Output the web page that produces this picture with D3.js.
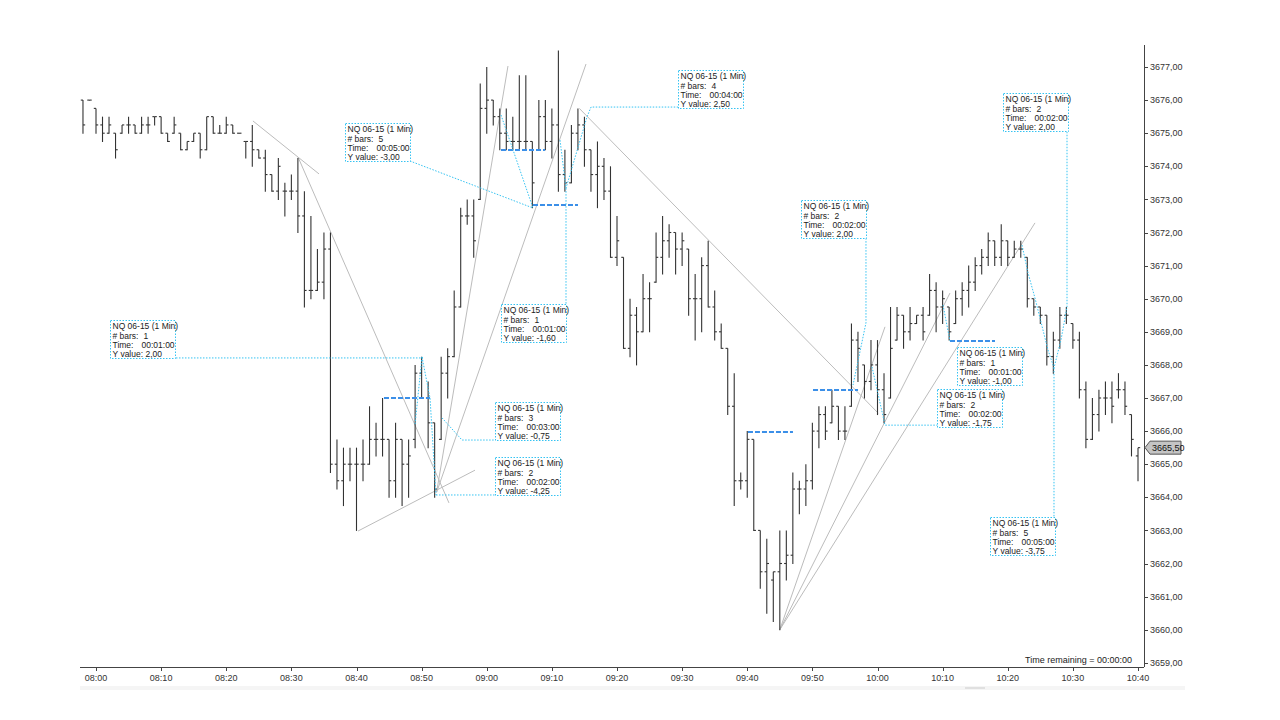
<!DOCTYPE html>
<html>
<head>
<meta charset="utf-8">
<script src="https://cdn.jsdelivr.net/npm/d3@7"></script>
<style>
  body { margin: 0; background: #fff; }
  svg { display: block; font-family: Arial, "Liberation Sans", sans-serif; }
</style>
</head>
<body>
<div id="chart"></div>
<script>
// minutes after 08:00, first bar is 07:58
const barMinutes = d3.range(-2, 161);

const opens = [
  3676.00, 3676.00,
  3675.75, 3675.25, 3675.00, 3675.00, 3675.00, 3675.25, 3675.25, 3675.00, 3675.25, 3675.50,
  3675.50, 3675.00, 3675.00, 3675.00, 3674.50, 3674.75, 3675.00, 3674.50, 3675.50, 3675.00,
  3675.00, 3675.25, 3675.00, 3674.75, 3674.75, 3674.50, 3674.25, 3673.75, 3673.25, 3673.25,
  3673.25, 3673.25, 3672.50, 3670.25, 3670.25, 3670.50, 3671.50, 3665.00, 3664.50, 3665.00,
  3665.00, 3665.00, 3665.00, 3665.75, 3665.75, 3665.75, 3664.50, 3665.75, 3665.00, 3665.75,
  3667.75, 3667.00, 3666.25, 3665.75, 3667.75, 3668.25, 3669.75, 3672.50, 3672.50, 3673.00,
  3675.75, 3676.00, 3675.50, 3675.00, 3674.75, 3674.75, 3674.75, 3674.75, 3674.50, 3675.50,
  3674.75, 3675.25, 3673.75, 3673.50, 3675.00, 3675.25, 3674.50, 3673.75, 3674.00, 3673.25,
  3671.25, 3671.25, 3668.50, 3669.50, 3669.00, 3670.00, 3670.50, 3671.25, 3671.75, 3672.00,
  3671.50, 3671.50, 3670.00, 3670.00, 3671.00, 3669.75, 3669.00, 3668.50, 3666.75, 3664.50,
  3664.50, 3665.75, 3663.00, 3661.75, 3661.50, 3661.75, 3662.00, 3662.25, 3664.25, 3664.25,
  3664.50, 3666.00, 3666.50, 3666.25, 3666.75, 3666.00, 3666.75, 3668.75, 3668.00, 3667.50,
  3668.00, 3667.25, 3667.00, 3668.75, 3669.50, 3669.00, 3669.25, 3669.50, 3669.50, 3670.25,
  3669.75, 3669.75, 3669.25, 3670.00, 3670.25, 3670.50, 3671.00, 3671.25, 3671.75, 3671.25,
  3671.75, 3671.25, 3671.50, 3671.25, 3670.00, 3669.75, 3669.50, 3668.25, 3668.75, 3669.50,
  3669.25, 3668.75, 3667.25, 3665.75, 3666.50, 3667.00, 3667.00, 3667.25, 3667.25, 3666.50,
  3665.25
];
const highs = [
  3676.00, 3676.00,
  3675.75, 3675.50, 3675.50, 3675.00, 3675.25, 3675.50, 3675.25, 3675.50, 3675.50, 3675.50,
  3675.50, 3675.00, 3675.50, 3675.00, 3674.75, 3675.00, 3675.00, 3675.50, 3675.50, 3675.25,
  3675.50, 3675.25, 3675.00, 3674.75, 3675.25, 3674.50, 3674.50, 3673.75, 3674.25, 3673.50,
  3673.75, 3674.25, 3673.25, 3672.50, 3671.50, 3672.00, 3672.00, 3665.75, 3665.50, 3665.50,
  3665.50, 3665.75, 3666.75, 3666.25, 3667.00, 3665.75, 3666.25, 3665.75, 3665.75, 3668.00,
  3668.25, 3667.50, 3666.25, 3668.25, 3668.50, 3670.25, 3672.75, 3673.00, 3673.00, 3676.50,
  3677.00, 3676.00, 3675.75, 3675.75, 3675.50, 3676.75, 3676.75, 3674.75, 3676.00, 3676.00,
  3675.75, 3677.50, 3674.50, 3675.25, 3675.75, 3675.50, 3674.50, 3674.75, 3674.25, 3674.00,
  3672.50, 3671.25, 3670.00, 3669.75, 3670.75, 3670.50, 3672.00, 3672.50, 3672.25, 3672.00,
  3672.00, 3671.50, 3670.75, 3671.25, 3671.75, 3670.25, 3669.25, 3668.50, 3667.75, 3664.75,
  3666.00, 3665.75, 3663.00, 3662.75, 3661.75, 3663.00, 3663.00, 3664.75, 3664.50, 3665.00,
  3666.25, 3666.75, 3666.75, 3667.25, 3666.75, 3666.75, 3669.25, 3669.00, 3668.00, 3668.75,
  3668.75, 3667.75, 3669.75, 3669.75, 3669.50, 3669.75, 3669.50, 3669.75, 3670.75, 3670.50,
  3670.25, 3669.75, 3670.25, 3670.50, 3671.00, 3671.25, 3671.50, 3672.00, 3671.75, 3672.25,
  3671.75, 3671.75, 3671.75, 3671.25, 3670.00, 3669.75, 3669.50, 3669.00, 3669.75, 3669.75,
  3669.25, 3669.00, 3667.50, 3667.00, 3667.25, 3667.50, 3667.50, 3667.75, 3667.50, 3666.50,
  3665.50
];
const lows = [
  3675.00, 3676.00,
  3675.00, 3674.75, 3675.00, 3674.25, 3675.00, 3675.00, 3675.00, 3675.00, 3675.00, 3675.25,
  3675.00, 3674.75, 3675.00, 3674.50, 3674.50, 3674.75, 3674.25, 3674.50, 3675.00, 3675.00,
  3675.00, 3675.00, 3675.00, 3674.25, 3674.00, 3674.25, 3673.25, 3673.25, 3673.00, 3672.50,
  3673.00, 3672.00, 3669.75, 3670.00, 3670.25, 3670.00, 3664.75, 3664.25, 3663.75, 3664.50,
  3663.00, 3664.50, 3665.00, 3665.25, 3665.25, 3664.00, 3664.00, 3663.75, 3664.00, 3665.50,
  3667.00, 3665.50, 3664.00, 3665.75, 3667.00, 3668.25, 3669.75, 3672.25, 3671.25, 3673.00,
  3675.00, 3675.25, 3674.50, 3674.50, 3674.50, 3674.50, 3674.50, 3672.75, 3674.50, 3674.50,
  3674.25, 3673.25, 3673.25, 3673.50, 3674.50, 3674.00, 3673.25, 3672.75, 3673.00, 3671.25,
  3671.00, 3668.50, 3668.25, 3668.00, 3669.00, 3669.00, 3670.50, 3670.75, 3671.25, 3670.75,
  3671.00, 3669.50, 3668.75, 3669.00, 3669.75, 3668.75, 3668.50, 3666.50, 3663.75, 3664.25,
  3664.00, 3663.00, 3661.25, 3660.50, 3660.25, 3660.00, 3661.50, 3662.00, 3663.50, 3663.75,
  3664.25, 3665.50, 3665.75, 3666.25, 3665.75, 3665.75, 3666.75, 3667.50, 3667.00, 3667.25,
  3666.50, 3666.25, 3667.00, 3668.75, 3668.50, 3668.75, 3669.25, 3668.75, 3669.50, 3669.00,
  3669.25, 3668.75, 3669.25, 3669.50, 3669.75, 3670.25, 3670.75, 3671.00, 3671.00, 3671.00,
  3671.00, 3671.25, 3671.25, 3669.75, 3669.50, 3669.25, 3668.00, 3667.75, 3668.50, 3669.25,
  3668.50, 3667.00, 3665.50, 3665.75, 3666.00, 3666.50, 3666.25, 3667.00, 3666.50, 3665.25,
  3664.50
];
const closes = [
  3675.25, 3676.00,
  3675.25, 3675.00, 3675.25, 3674.50, 3675.25, 3675.25, 3675.00, 3675.25, 3675.25, 3675.50,
  3675.00, 3674.75, 3675.25, 3674.50, 3674.75, 3675.00, 3674.50, 3675.50, 3675.00, 3675.00,
  3675.25, 3675.00, 3675.00, 3674.75, 3674.50, 3674.25, 3673.75, 3673.25, 3674.00, 3673.25,
  3673.25, 3672.50, 3670.25, 3670.25, 3670.50, 3671.50, 3665.00, 3664.50, 3665.00, 3665.00,
  3665.00, 3665.00, 3665.75, 3665.75, 3665.75, 3664.50, 3665.75, 3665.00, 3665.25, 3667.75,
  3667.00, 3666.25, 3664.25, 3667.75, 3668.25, 3669.75, 3672.50, 3672.50, 3671.75, 3675.75,
  3676.00, 3675.50, 3675.00, 3674.75, 3674.75, 3674.75, 3674.75, 3673.50, 3675.50, 3674.75,
  3675.25, 3673.75, 3673.50, 3675.00, 3675.25, 3674.50, 3673.75, 3674.00, 3673.25, 3671.25,
  3671.75, 3668.50, 3669.50, 3669.00, 3670.00, 3670.00, 3671.25, 3671.75, 3672.00, 3671.50,
  3671.75, 3670.00, 3670.00, 3671.00, 3669.75, 3669.00, 3668.50, 3666.75, 3664.50, 3664.50,
  3665.75, 3663.00, 3661.75, 3662.00, 3661.75, 3662.00, 3662.25, 3664.25, 3664.25, 3664.50,
  3666.00, 3666.50, 3666.00, 3666.75, 3666.00, 3666.00, 3668.75, 3668.50, 3667.50, 3668.00,
  3667.25, 3666.50, 3668.50, 3669.50, 3669.00, 3669.25, 3669.50, 3669.00, 3670.25, 3669.75,
  3670.00, 3669.00, 3670.00, 3670.25, 3670.50, 3671.00, 3671.25, 3671.75, 3671.25, 3671.75,
  3671.25, 3671.50, 3671.50, 3670.00, 3669.75, 3669.50, 3668.25, 3668.75, 3669.50, 3669.50,
  3668.75, 3667.25, 3665.75, 3666.50, 3667.00, 3667.00, 3666.75, 3667.25, 3666.75, 3665.75,
  3665.50
];

const xTickMinutes = d3.range(0, 161, 10);
const xTickLabels = ["08:00", "08:10", "08:20", "08:30", "08:40", "08:50", "09:00", "09:10", "09:20",
  "09:30", "09:40", "09:50", "10:00", "10:10", "10:20", "10:30", "10:40"];
const yTicks = d3.range(3659, 3678, 1);

// drawing tools, points as [minute, price]
const trendLines = [
  [[24.1, 3675.37], [34.24, 3673.77]],
  [[31.02, 3674.28], [54.2, 3663.83]],
  [[40.23, 3662.98], [58.2, 3664.82]],
  [[52.3, 3664.15], [63.26, 3677.03]],
  [[52.3, 3664.15], [75.24, 3677.09]],
  [[74.21, 3675.75], [120.12, 3666.54]],
  [[105, 3660.0], [121.15, 3669.15]],
  [[105, 3660.0], [131.13, 3670.17]],
  [[105, 3660.0], [144.18, 3672.29]]
];
const rulerPaths = [
  [[12.28, 3668.21], [50.21, 3668.21]],
  [[50.06, 3668.24], [48.98, 3666.18]],
  [[50.06, 3668.24], [51.29, 3667.0], [52.21, 3664.07]],
  [[52.21, 3664.07], [61.27, 3664.07]],
  [[53.13, 3666.4], [56.2, 3665.73], [61.27, 3665.73]],
  [[48.21, 3674.16], [67.1, 3672.74]],
  [[62.19, 3675.55], [67.1, 3672.74]],
  [[71.25, 3674.79], [72.17, 3673.34], [75.39, 3675.49], [76.01, 3675.79], [89.37, 3675.79]],
  [[72.17, 3673.34], [72.17, 3669.84]],
  [[118.23, 3671.83], [118.23, 3669.27], [116.24, 3667.39]],
  [[119.16, 3667.94], [121.15, 3666.18], [129.29, 3666.18]],
  [[130.06, 3669.81], [131.13, 3668.72]],
  [[142.19, 3671.62], [143.11, 3670.78], [144.18, 3670.02], [146.18, 3668.45], [147.1, 3667.91],
   [148.17, 3668.75], [149.1, 3669.75], [149.1, 3675.07]],
  [[147.1, 3667.91], [147.1, 3663.4]]
];
const rulerLevels = [
  [44.22, 51.29, 3667.0],
  [62.19, 68.94, 3674.49],
  [67.1, 74.01, 3672.83],
  [100.11, 107.02, 3665.97],
  [110.1, 117.01, 3667.24],
  [131.13, 138.04, 3668.72]
];
// label boxes: top-left corner [minute, price]
const labelCorners = [
  [2.15, 3669.36], [38.23, 3675.31], [62.19, 3669.84], [89.37, 3676.91], [61.27, 3666.88],
  [61.27, 3665.22], [108.25, 3672.98], [132.21, 3668.54], [129.14, 3667.27], [139.27, 3676.21],
  [137.27, 3663.40]
];
const labelBars = ["1", "5", "1", "4", "3", "2", "2", "1", "2", "2", "5"];
const labelTimes = ["00:01:00", "00:05:00", "00:01:00", "00:04:00", "00:03:00", "00:02:00",
  "00:02:00", "00:01:00", "00:02:00", "00:02:00", "00:05:00"];
const labelValues = ["2,00", "-3,00", "-1,60", "2,50", "-0,75", "-4,25", "2,00", "-1,00", "-1,75",
  "2,00", "-3,75"];
const lastPrice = 3665.50;

const width = 1280;
const height = 720;
const plot = { left: 80, right: 1144, top: 45, bottom: 667 };

const svg = d3.select("#chart").append("svg")
  .attr("width", width)
  .attr("height", height);

const x = d3.scaleLinear().domain([0, 160]).range([96, 1138]);
const y = d3.scaleLinear().domain([3659, 3677]).range([662.8, 67]);
const fmt = v => d3.format(".2f")(v).replace(".", ",");
const line = d3.line().x(d => x(d[0])).y(d => y(d[1]));

// trend lines (light grey)
svg.append("g").selectAll("path")
  .data(trendLines)
  .join("path")
  .attr("d", line)
  .attr("fill", "none")
  .attr("stroke", "#bcbcbc")
  .attr("stroke-width", 1);

// ohlc bars
const bars = svg.append("g")
  .attr("stroke", "#333")
  .attr("stroke-width", 1.1);
barMinutes.forEach((m, i) => {
  const bx = x(m);
  bars.append("line")
    .attr("x1", bx).attr("x2", bx)
    .attr("y1", y(highs[i])).attr("y2", y(lows[i]) + 0.5);
  bars.append("line")
    .attr("x1", bx - 2.2).attr("x2", bx)
    .attr("y1", y(opens[i])).attr("y2", y(opens[i]));
  bars.append("line")
    .attr("x1", bx).attr("x2", bx + 2.2)
    .attr("y1", y(closes[i])).attr("y2", y(closes[i]));
});

// ruler levels (dashed blue)
svg.append("g").selectAll("line")
  .data(rulerLevels)
  .join("line")
  .attr("x1", d => x(d[0]))
  .attr("x2", d => x(d[1]))
  .attr("y1", d => y(d[2]))
  .attr("y2", d => y(d[2]))
  .attr("stroke", "#3b8fe8")
  .attr("stroke-width", 2)
  .attr("stroke-dasharray", "5,2");

// ruler paths (dotted cyan)
svg.append("g").selectAll("path")
  .data(rulerPaths)
  .join("path")
  .attr("d", line)
  .attr("fill", "none")
  .attr("stroke", "#35c3f2")
  .attr("stroke-width", 1)
  .attr("stroke-dasharray", "1.5,1.5");

// ruler label boxes
const boxW = 65, boxH = 38;
const boxes = svg.append("g").selectAll("g")
  .data(labelCorners)
  .join("g")
  .attr("transform", d => `translate(${Math.round(x(d[0])) + 0.5},${Math.round(y(d[1])) + 0.5})`);
boxes.append("rect")
  .attr("width", boxW)
  .attr("height", boxH)
  .attr("fill", "#fff")
  .attr("stroke", "#35c3f2")
  .attr("stroke-dasharray", "1.5,1.5");
const boxText = boxes.append("g")
  .attr("font-size", "8.5px")
  .attr("fill", "#222");
boxText.append("text").attr("x", 2).attr("y", 8.5).text("NQ 06-15 (1 Min)");
boxText.append("text").attr("x", 2).attr("y", 18).text("# bars:");
boxText.append("text").attr("x", 33).attr("y", 18).text((d, i) => labelBars[i]);
boxText.append("text").attr("x", 2).attr("y", 27.5).text("Time:");
boxText.append("text").attr("x", 31).attr("y", 27.5).text((d, i) => labelTimes[i]);
boxText.append("text").attr("x", 2).attr("y", 36.5).text((d, i) => "Y value: " + labelValues[i]);

// right price axis
const yAxis = svg.append("g").attr("font-size", "9px").attr("fill", "#333");
yAxis.append("line")
  .attr("x1", plot.right + 0.5).attr("x2", plot.right + 0.5)
  .attr("y1", plot.top).attr("y2", plot.bottom)
  .attr("stroke", "#444");
yAxis.selectAll("line.tick")
  .data(yTicks)
  .join("line")
  .attr("class", "tick")
  .attr("x1", plot.right).attr("x2", plot.right + 4)
  .attr("y1", d => Math.round(y(d)) + 0.5)
  .attr("y2", d => Math.round(y(d)) + 0.5)
  .attr("stroke", "#444");
yAxis.selectAll("text")
  .data(yTicks)
  .join("text")
  .attr("x", plot.right + 6)
  .attr("y", d => y(d))
  .attr("dy", "0.35em")
  .text(fmt);

// bottom time axis
const xAxis = svg.append("g").attr("font-size", "9px").attr("fill", "#333");
xAxis.append("line")
  .attr("x1", plot.left).attr("x2", plot.right)
  .attr("y1", plot.bottom + 0.5).attr("y2", plot.bottom + 0.5)
  .attr("stroke", "#444");
xAxis.selectAll("line.tick")
  .data(xTickMinutes)
  .join("line")
  .attr("class", "tick")
  .attr("x1", d => Math.round(x(d)) + 0.5)
  .attr("x2", d => Math.round(x(d)) + 0.5)
  .attr("y1", plot.bottom).attr("y2", plot.bottom + 4)
  .attr("stroke", "#444");
xAxis.selectAll("text")
  .data(xTickMinutes)
  .join("text")
  .attr("x", d => x(d))
  .attr("y", 681)
  .attr("text-anchor", "middle")
  .text((d, i) => xTickLabels[i]);

// scroll strip under the axis
svg.append("rect")
  .attr("x", plot.left).attr("y", 686)
  .attr("width", 1105).attr("height", 4)
  .attr("fill", "#f5f5f5");
svg.append("rect")
  .attr("x", 965).attr("y", 687)
  .attr("width", 20).attr("height", 2)
  .attr("fill", "#e0e0e0");

// last price marker
const ly = y(lastPrice);
svg.append("path")
  .attr("d", `M${plot.right + 1},${ly} L${plot.right + 6},${ly - 6.5} L${plot.right + 37},${ly - 6.5} L${plot.right + 37},${ly + 6.5} L${plot.right + 6},${ly + 6.5} Z`)
  .attr("fill", "#c4c4c4")
  .attr("stroke", "#555");
svg.append("text")
  .attr("x", plot.right + 8)
  .attr("y", ly)
  .attr("dy", "0.35em")
  .attr("font-size", "9px")
  .attr("fill", "#111")
  .text(fmt(lastPrice));

svg.append("text")
  .attr("x", 1132)
  .attr("y", 663)
  .attr("text-anchor", "end")
  .attr("font-size", "9px")
  .attr("fill", "#222")
  .text("Time remaining = 00:00:00");
</script>
</body>
</html>
